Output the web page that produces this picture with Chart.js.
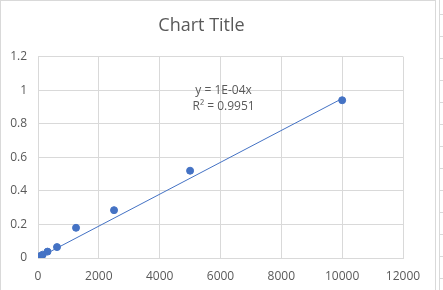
<!DOCTYPE html>
<html>
<head>
<meta charset="utf-8">
<script src="https://cdn.jsdelivr.net/npm/chart.js@4/dist/chart.umd.min.js"></script>
<style>
  html, body { margin: 0; padding: 0; background: #fff; }
  #wrap { position: relative; width: 443px; height: 290px; overflow: hidden; }
  #frame { position: absolute; left: 0; top: 0; width: 436px; height: 295px; border: 1px solid #d9d9d9; box-sizing: border-box; }
  #box { position: absolute; left: 0; top: 0; width: 437px; height: 290px; }
  #side { position: absolute; left: 439px; top: 0; width: 4px; height: 290px;
    border-left: 1px solid #d9d9d9; box-sizing: border-box;
    background: repeating-linear-gradient(to bottom, transparent 0px, transparent 14px, #d9d9d9 14px, #d9d9d9 15px, transparent 15px, transparent 22px); }
</style>
</head>
<body>
<div id="wrap">
  <div id="box"><canvas id="c" width="437" height="290"></canvas></div>
  <div id="frame"></div>
  <div id="side"></div>
</div>
<script>
const xValues = [0, 78, 156, 312.5, 625, 1250, 2500, 5000, 10000];
const yValues = [0.005, 0.012, 0.02, 0.038, 0.065, 0.18, 0.285, 0.52, 0.94];
const xTicks = [0, 2000, 4000, 6000, 8000, 10000, 12000];
const yTicks = [0, 0.2, 0.4, 0.6, 0.8, 1, 1.2];
const trendSlope = 0.000095;
const trendRange = [0, 10000];
const trendLabel = ["y = 1E-04x", "R\u00b2 = 0.9951"];
const titleText = "Chart Title";

const FONT = "'Open Sans', 'Liberation Sans', sans-serif";
const GREY = "#595959";
const BLUE = "#4472C4";

const points = xValues.map((x, i) => ({ x: x, y: yValues[i] }));
const trend = trendRange.map(x => ({ x: x, y: trendSlope * x }));

const labelPlugin = {
  id: 'trendLabel',
  afterDatasetsDraw(chart) {
    const ctx = chart.ctx;
    const xs = chart.scales.x, ys = chart.scales.y;
    const cx = xs.getPixelForValue(6100);
    const cy = ys.getPixelForValue(1.0);
    ctx.save();
    ctx.fillStyle = GREY;
    ctx.font = "12px " + FONT;
    ctx.textAlign = 'center';
    ctx.textBaseline = 'middle';
    ctx.fillText(trendLabel[0], cx, cy);
    ctx.fillText(trendLabel[1], cx, cy + 16);
    ctx.restore();
  }
};

new Chart(document.getElementById('c'), {
  type: 'scatter',
  data: {
    datasets: [
      {
        data: trend,
        type: 'line',
        borderColor: BLUE,
        borderWidth: 1,
        pointRadius: 0,
        fill: false,
        order: 2
      },
      {
        data: points,
        backgroundColor: BLUE,
        borderColor: BLUE,
        pointRadius: 3.5,
        pointHoverRadius: 3.5,
        order: 1
      }
    ]
  },
  options: {
    responsive: false,
    animation: false,
    events: [],
    layout: { padding: { left: 0, right: 34, top: 9, bottom: 0 } },
    plugins: {
      legend: { display: false },
      tooltip: { enabled: false },
      title: {
        display: true,
        text: titleText,
        color: GREY,
        font: { family: FONT, size: 18, weight: 'normal' },
        padding: { top: 6, bottom: 20 }
      }
    },
    scales: {
      x: {
        type: 'linear',
        min: 0, max: 12000,
        afterBuildTicks(scale) { scale.ticks = xTicks.map(v => ({ value: v })); },
        afterFit(scale) { scale.height = 32; },
        grid: { color: '#d9d9d9', lineWidth: 1, drawTicks: false },
        border: { color: '#d9d9d9' },
        ticks: { color: GREY, font: { family: FONT, size: 12 }, padding: 11, maxRotation: 0,
          callback: v => String(v) }
      },
      y: {
        type: 'linear',
        min: 0, max: 1.2,
        afterBuildTicks(scale) { scale.ticks = yTicks.map(v => ({ value: v })); },
        afterFit(scale) { scale.width = 38; },
        grid: { color: '#d9d9d9', lineWidth: 1, drawTicks: false },
        border: { color: '#d9d9d9' },
        ticks: { color: GREY, font: { family: FONT, size: 12 }, padding: 11,
          callback: v => String(Math.round(v * 10) / 10) }
      }
    }
  },
  plugins: [labelPlugin]
});
</script>
</body>
</html>
